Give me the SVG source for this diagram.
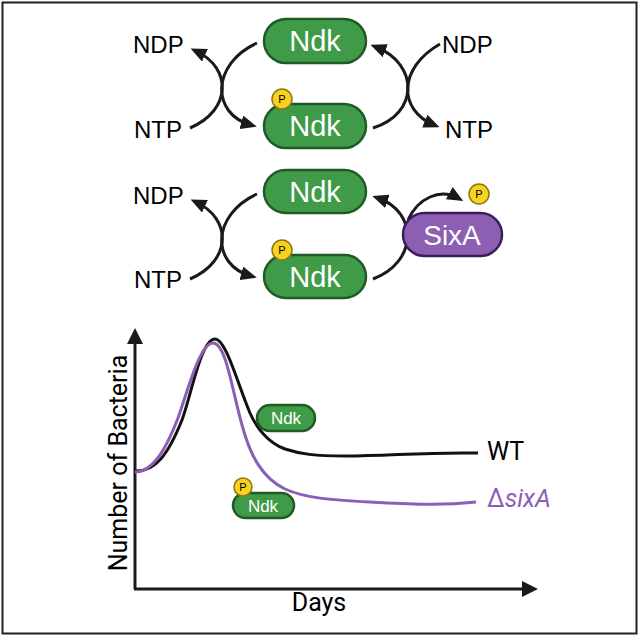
<svg xmlns="http://www.w3.org/2000/svg" width="640" height="638" viewBox="0 0 640 638">
<style>
.lbl{font-family:"Liberation Sans",Arial,sans-serif;font-size:24px;fill:#000}
.pill{fill:#3f9b47;stroke:#1f5a27;stroke-width:2.5}
.pilltx{font-family:"Liberation Sans",Arial,sans-serif;fill:#fff;text-anchor:middle}
.sixa{fill:#8c5fb2;stroke:#3b1d5a;stroke-width:2.5}
.pc{fill:#f7d21e;stroke:#8f7414;stroke-width:1.5}
.ptx{font-family:"Liberation Sans",Arial,sans-serif;font-size:11px;fill:#000;text-anchor:middle}
.arr{fill:none;stroke:#1a1a1a;stroke-width:3;marker-end:url(#ah)}
.axis{fill:none;stroke:#1a1a1a;stroke-width:3}
.ax{font-family:Roboto,"Liberation Sans",sans-serif;font-size:25px;fill:#000}
</style>
<defs>
<marker id="ah" viewBox="0 0 16 14" refX="10" refY="7" markerWidth="16" markerHeight="14" markerUnits="userSpaceOnUse" orient="auto">
<path d="M0,0 L16,7 L0,14 z" fill="#1a1a1a"/>
</marker>
<marker id="axh" viewBox="0 0 16 16" refX="4" refY="8" markerWidth="16" markerHeight="16" markerUnits="userSpaceOnUse" orient="auto">
<path d="M0,0 L16,8 L0,16 z" fill="#1a1a1a"/>
</marker>
</defs>
<rect x="2.5" y="2.5" width="634" height="631" fill="#fff" stroke="#222" stroke-width="2"/>

<g id="connectors">
<!-- row 1 left -->
<path class="arr" d="M190,128 C232,110 232,68 196,51"/>
<path class="arr" d="M257,43 C211,64 211,114 251,125"/>
<!-- row 1 right -->
<path class="arr" d="M373,128 C419,114 419,64 376,47"/>
<path class="arr" d="M440,44 C398,68 398,110 434,125"/>
<!-- row 2 left -->
<path class="arr" d="M190,279 C232,261 232,219 196,202"/>
<path class="arr" d="M257,194 C211,215 211,265 251,276"/>
<!-- row 2 right -->
<path class="arr" d="M373,279 C418,262 418,212 378,198"/>
<path class="arr" d="M408,220 C418,198 440,188 458,198"/>
</g>

<g id="row1-text">
<text class="lbl" x="133" y="53">NDP</text>
<text class="lbl" x="134" y="138">NTP</text>
<text class="lbl" x="442" y="53">NDP</text>
<text class="lbl" x="445" y="138">NTP</text>
</g>
<g id="ndk-1">
<rect class="pill" x="264" y="19" width="102" height="44" rx="22"/>
<text class="pilltx" x="315" y="51" font-size="29">Ndk</text>
</g>
<g id="ndkp-1">
<rect class="pill" x="264" y="104" width="102" height="44" rx="22"/>
<text class="pilltx" x="315" y="136" font-size="29">Ndk</text>
<circle class="pc" cx="282" cy="99" r="10"/>
<text class="ptx" x="282" y="103">P</text>
</g>

<g id="row2-text">
<text class="lbl" x="133" y="204">NDP</text>
<text class="lbl" x="134" y="288">NTP</text>
</g>
<g id="ndk-2">
<rect class="pill" x="264" y="170" width="102" height="43" rx="21.5"/>
<text class="pilltx" x="315" y="202" font-size="29">Ndk</text>
</g>
<g id="ndkp-2">
<rect class="pill" x="264" y="255" width="102" height="43" rx="21.5"/>
<text class="pilltx" x="315" y="287" font-size="29">Ndk</text>
<circle class="pc" cx="282" cy="250" r="10"/>
<text class="ptx" x="282" y="254">P</text>
</g>
<g id="sixa">
<rect class="sixa" x="403" y="213" width="99" height="43" rx="21.5"/>
<text class="pilltx" x="452" y="245" font-size="28">SixA</text>
</g>
<g id="p-released">
<circle class="pc" cx="479" cy="194" r="10"/>
<text class="ptx" x="479" y="198">P</text>
</g>

<g id="graph">
<path class="axis" d="M135,589 L135,340" marker-end="url(#axh)"/>
<path class="axis" d="M134,589 L526,589" marker-end="url(#axh)"/>
<text class="ax" transform="translate(127,463) rotate(-90)" text-anchor="middle">Number of Bacteria</text>
<text class="ax" x="319" y="611" text-anchor="middle">Days</text>
<path fill="none" stroke="#111" stroke-width="3" d="M135,471 C155,472 168,455 182,420 C191,396 201,339 215,339 C226,339 238,385 250,413 C256,427 268,443 285,449 C300,454 315,456 345,456 C390,456 420,452 478,453"/>
<path fill="none" stroke="#8a5fb5" stroke-width="3" d="M135,472 C152,472 165,452 178,418 C188,390 200,343 213,343 C226,343 232,390 242,425 C250,455 262,478 285,489 C305,498 330,500 370,502 C410,504 440,506 476,502"/>
<text class="ax" x="487" y="460" font-size="24">WT</text>
<text class="ax" x="487" y="507" font-size="24" style="fill:#8a5fb5">Δ<tspan font-style="italic">sixA</tspan></text>
</g>
<g id="graph-ndk">
<rect class="pill" x="257" y="405" width="58" height="26" rx="13" stroke-width="2"/>
<text class="pilltx" x="286" y="424" font-size="17">Ndk</text>
</g>
<g id="graph-ndkp">
<rect class="pill" x="233" y="493" width="61" height="25" rx="12.5" stroke-width="2"/>
<text class="pilltx" x="263" y="512" font-size="17">Ndk</text>
<circle class="pc" cx="243" cy="487" r="9"/>
<text class="ptx" x="243" y="491" font-size="10">P</text>
</g>
</svg>
